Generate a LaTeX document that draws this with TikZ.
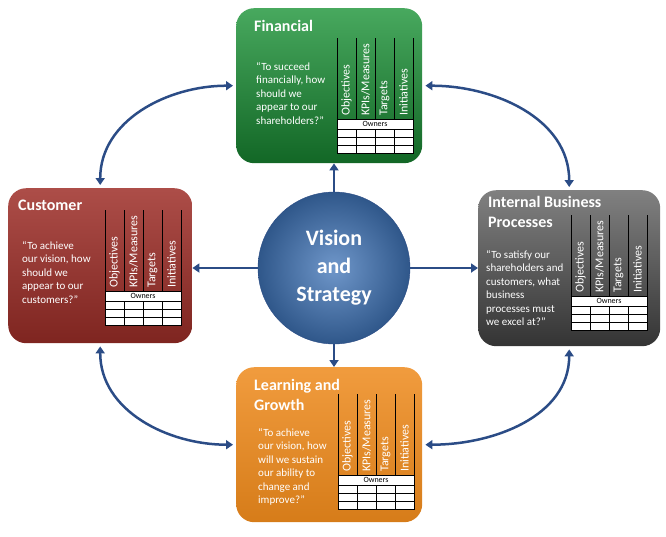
\documentclass[tikz,border=0pt]{standalone}
\usepackage{fontspec}
\setmainfont{Carlito}
\usetikzlibrary{positioning, calc}
\usetikzlibrary{arrows.meta}
\definecolor{fingreen}{HTML}{1A9336}
\definecolor{cusred}{HTML}{9E2E28}
\definecolor{intgray}{HTML}{4A4A4A}
\definecolor{lrnorange}{HTML}{EE8A1C}
\definecolor{arrblue}{HTML}{2B4C86}
\definecolor{visblue}{HTML}{3F74B8}
\newcommand{\bscgrid}[2]{%
	\begin{scope}[shift={(#1,#2)}]
	\foreach \i/\lbl in {0/Objectives,1/{KPIs/Measures},2/Targets,3/Initiatives}
		\node[rotate=90,anchor=west,inner sep=1pt,font=\fontsize{12}{13}\selectfont,text=white] at (\i*19+9.5,79) {\lbl};
	\foreach \i in {0,...,4}
		\draw[black,thin] (\i*19,0) -- (\i*19,81);
	\draw[black,thin,fill=white] (0,81) rectangle (76,91);
	\node[font=\fontsize{8}{9}\selectfont,inner sep=0pt] at (38,86) {Owners};
	\draw[black,thin,fill=white] (0,91) rectangle (76,115);
	\foreach \j in {99,107}
		\draw[black,thin] (0,\j) -- (76,\j);
	\foreach \i in {1,2,3}
		\draw[black,thin] (\i*19,91) -- (\i*19,115);
	\end{scope}}
\begin{document}
\begin{tikzpicture}[x=1pt,y=-1pt]
	\tikzstyle{bsc-box}=[rounded corners=18pt,minimum width=186pt,minimum height=155pt,anchor=north west,inner sep=0pt]
	\tikzstyle{bsc-title}=[anchor=north west,text=white,font=\bfseries\fontsize{16}{18}\selectfont,align=left,inner sep=0pt]
	\tikzstyle{bsc-text}=[anchor=north west,text=white,font=\fontsize{11}{13.5}\selectfont,align=left,inner sep=0pt]
	\tikzstyle{bsc-arrow}=[arrblue,line width=2.5pt,-{Triangle[length=7pt,width=9pt]}]
	\tikzstyle{bsc-curve}=[arrblue,line width=2.5pt,{Triangle[length=7pt,width=9pt]}-{Triangle[length=7pt,width=9pt]}]
	\useasboundingbox (0,0) rectangle (666,536);

	% perspectives
	\node[bsc-box,top color=fingreen!80!white,bottom color=fingreen!70!black] (fin) at (236,8) {};
	\node[bsc-box,top color=cusred!85!white,bottom color=cusred!80!black,minimum width=184pt] (cus) at (8,188) {};
	\node[bsc-box,top color=intgray!70!white,bottom color=intgray!70!black,minimum width=182pt,minimum height=156pt] (int) at (478,190) {};
	\node[bsc-box,top color=lrnorange!85!white,bottom color=lrnorange!90!black] (lrn) at (236,367) {};

	% titles
	\node[bsc-title] (finT) at (254,20) {Financial};
	\node[bsc-title] (cusT) at (18,200) {Customer};
	\node[bsc-title] (intT) at (488,196) {Internal Business\\[2pt]Processes};
	\node[bsc-title] (lrnT) at (254,379) {Learning and\\[2pt]Growth};

	% questions
	\node[bsc-text] (finQ) at (256,62) {“To succeed\\financially, how\\should we\\appear to our\\shareholders?”};
	\node[bsc-text] (cusQ) at (22,241) {“To achieve\\our vision, how\\should we\\appear to our\\customers?”};
	\node[bsc-text] (intQ) at (486,250) {“To satisfy our\\shareholders and\\customers, what\\business\\processes must\\we excel at?”};
	\node[bsc-text] (lrnQ) at (258,428) {“To achieve\\our vision, how\\will we sustain\\our ability to\\change and\\improve?”};

	% tables
	\bscgrid{337}{38}
	\bscgrid{105}{210}
	\bscgrid{571}{215}
	\bscgrid{338}{394}

	% vision
	\node[circle,minimum size=152pt,inner color=visblue!75!white,outer color=visblue!75!black,draw=arrblue,thin,text=white,align=center,
		font=\bfseries\fontsize{22}{28}\selectfont] (vis) at (334,268) {Vision\\and\\Strategy};

	\draw[bsc-arrow] (vis.north) -- (fin.south -| vis.north);
	\draw[bsc-arrow] (vis.west) -- (cus.east |- vis.west);
	\draw[bsc-arrow] (vis.east) -- (int.west |- vis.east);
	\draw[bsc-arrow] (vis.south) -- (lrn.north -| vis.south);

	\draw[bsc-curve] ($(fin.west)+(-3,0)$) to[out=180,in=90] ($(cus.north)+(0,-3)$);
	\draw[bsc-curve] ($(fin.east)+(3,0)$) to[out=0,in=90] ($(int.north)+(0,-3)$);
	\draw[bsc-curve] ($(cus.south)+(0,3)$) to[out=-90,in=180] ($(lrn.west)+(-3,0)$);
	\draw[bsc-curve] ($(int.south)+(0,3)$) to[out=-90,in=0] ($(lrn.east)+(3,0)$);
\end{tikzpicture}
\end{document}
